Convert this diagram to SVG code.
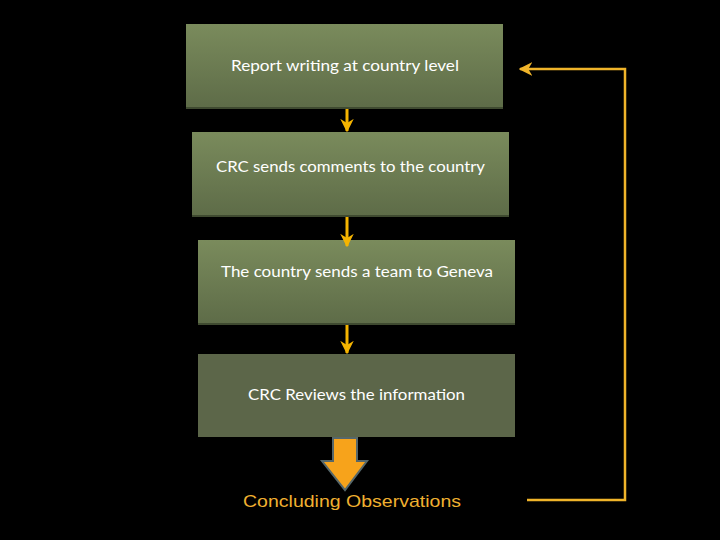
<svg xmlns="http://www.w3.org/2000/svg" width="720" height="540" viewBox="0 0 720 540">
<defs>
<linearGradient id="g" x1="0" y1="0" x2="0" y2="1">
<stop offset="0" stop-color="#7a8b5c"/>
<stop offset="1" stop-color="#5e6c48"/>
</linearGradient>
<marker id="ah" viewBox="0 0 10 10" refX="9" refY="5" markerWidth="4.5" markerHeight="4.5" orient="auto" markerUnits="strokeWidth">
<path d="M0,0 L10,5 L0,10 L3,5 Z" fill="#f5b400"/>
</marker>
<marker id="fb" viewBox="0 0 10 10" refX="9" refY="5" markerWidth="5.5" markerHeight="5.5" orient="auto" markerUnits="strokeWidth">
<path d="M0,0 L10,5 L0,10 L3,5 Z" fill="#f0b42a"/>
</marker>
<style>
.box{fill:url(#g)}
.shadow{fill:#3f4a30}
.t{font-family:Lato,"Open Sans",sans-serif;font-size:15px;fill:#ffffff;text-anchor:middle}
.step{stroke:#f5b400;stroke-width:3;fill:none;marker-end:url(#ah)}
</style>
</defs>
<rect width="720" height="540" fill="#000000"/>
<g id="node1">
<rect class="shadow" x="186" y="24" width="317" height="85"/>
<rect class="box" x="186" y="24" width="317" height="83"/>
<text class="t" x="345" y="71" textLength="228" lengthAdjust="spacingAndGlyphs">Report writing at country level</text>
</g>
<g id="node2">
<rect class="shadow" x="192" y="132" width="317" height="85"/>
<rect class="box" x="192" y="132" width="317" height="83"/>
<text class="t" x="350.5" y="172" textLength="269" lengthAdjust="spacingAndGlyphs">CRC sends comments to the country</text>
</g>
<g id="node3">
<rect class="shadow" x="198" y="240" width="317" height="85"/>
<rect class="box" x="198" y="240" width="317" height="83"/>
<text class="t" x="357" y="277" textLength="272" lengthAdjust="spacingAndGlyphs">The country sends a team to Geneva</text>
</g>
<g id="node4">
<rect x="198" y="354" width="317" height="83" fill="#5c6649"/>
<text class="t" x="356.5" y="400" textLength="217" lengthAdjust="spacingAndGlyphs">CRC Reviews the information</text>
</g>
<g id="node5">
<text x="352" y="507" font-family="'Liberation Sans',Arial,sans-serif" font-size="17" fill="#f0b030" text-anchor="middle" textLength="218" lengthAdjust="spacingAndGlyphs">Concluding Observations</text>
</g>
<g id="connectors">
<line class="step" x1="347" y1="109" x2="347" y2="131"/>
<line class="step" x1="347" y1="217" x2="347" y2="246"/>
<line class="step" x1="347" y1="325" x2="347" y2="353"/>
<path d="M333,438 H357 V461 H367 L345,490 L322,461 H333 Z" fill="#f7a31b" stroke="#56676a" stroke-width="2" stroke-linejoin="miter"/>
<polyline points="527,500 625,500 625,69 520,69" fill="none" stroke="#f0b42a" stroke-width="2.5" marker-end="url(#fb)"/>
</g>
</svg>
